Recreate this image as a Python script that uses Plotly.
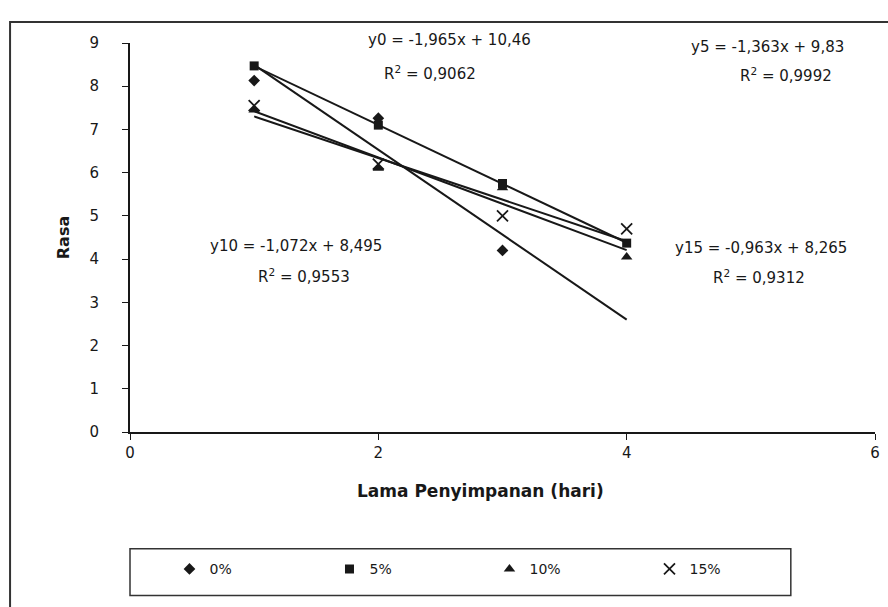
import plotly.graph_objects as go

# Storage time (days) and taste scores for each concentration
days = [1, 2, 3, 4]
days_0 = [1, 2, 3]
rasa_0 = [8.13, 7.26, 4.20]
rasa_5 = [8.47, 7.10, 5.75, 4.37]
rasa_10 = [7.45, 6.10, 5.65, 4.05]
rasa_15 = [7.55, 6.20, 5.00, 4.70]

series_names = ["0%", "5%", "10%", "15%"]
slopes = [-1.965, -1.363, -1.072, -0.963]
intercepts = [10.46, 9.83, 8.495, 8.265]
r2_values = ["0,9062", "0,9992", "0,9553", "0,9312"]
eq_labels = ["y0 = -1,965x + 10,46", "y5 = -1,363x + 9,83",
             "y10 = -1,072x + 8,495", "y15 = -0,963x + 8,265"]

x_ticks = [0, 2, 4, 6]
y_ticks = list(range(0, 10))

INK = "#181818"
FONT = "DejaVu Sans, Arial, sans-serif"

fig = go.Figure()

# Linear trend lines over the storage period
trend_x = [1, 4]
for m, c in zip(slopes, intercepts):
    fig.add_trace(go.Scatter(
        x=trend_x, y=[m * t + c for t in trend_x], mode="lines",
        line=dict(color=INK, width=2), showlegend=False, hoverinfo="skip"))

marker_styles = [
    dict(symbol="diamond", size=9),
    dict(symbol="square", size=9),
    dict(symbol="triangle-up", size=10),
    dict(symbol="x-thin", size=11, line=dict(width=1.8, color=INK)),
]
xs = [days_0, days, days, days]
ys = [rasa_0, rasa_5, rasa_10, rasa_15]
for name, x, y, ms in zip(series_names, xs, ys, marker_styles):
    fig.add_trace(go.Scatter(
        x=x, y=y, mode="markers", name=name,
        marker=dict(color=INK, **ms)))

# Regression equations and R² labels (paper coordinates, centred)
eq_pos = [(0.429, 1.008), (0.856, 0.990), (0.223, 0.478), (0.847, 0.473)]
r2_pos = [(0.403, 0.923), (0.880, 0.918), (0.233, 0.401), (0.844, 0.398)]
for lab, (ex, ey), r2, (rx, ry) in zip(eq_labels, eq_pos, r2_values, r2_pos):
    fig.add_annotation(x=ex, y=ey, xref="paper", yref="paper", text=lab,
                       xanchor="center", yanchor="middle", showarrow=False,
                       font=dict(size=15, color=INK, family=FONT))
    fig.add_annotation(x=rx, y=ry, xref="paper", yref="paper",
                       text=f"R<sup>2</sup> = {r2}", xanchor="center",
                       yanchor="middle", showarrow=False,
                       font=dict(size=15, color=INK, family=FONT))

# X axis title
fig.add_annotation(x=0.471, y=-0.152, xref="paper", yref="paper",
                   text="<b>Lama Penyimpanan (hari)</b>", xanchor="center",
                   yanchor="middle", showarrow=False,
                   font=dict(size=17, color=INK, family=FONT))

# Outer chart frame and legend box
fig.add_shape(type="rect", xref="paper", yref="paper",
              x0=-0.161, x1=1.03, y0=-0.6, y1=1.054,
              line=dict(color="#333", width=2))
fig.add_shape(type="rect", xref="paper", yref="paper",
              x0=0.0, x1=0.887, y0=-0.42, y1=-0.30,
              line=dict(color="#333", width=1.5))

fig.update_layout(
    width=888, height=607,
    margin=dict(l=130, r=8, t=43, b=175),
    paper_bgcolor="white", plot_bgcolor="white",
    font=dict(family=FONT, color=INK, size=15),
    legend=dict(orientation="h", x=0.053, y=-0.312, xanchor="left", yanchor="top",
                entrywidth=115, font=dict(size=14, family=FONT),
                bgcolor="rgba(0,0,0,0)", itemclick=False),
    xaxis=dict(range=[0, 6], tickvals=x_ticks, showline=True, linecolor=INK,
               linewidth=2, ticks="outside", ticklen=6, tickcolor=INK,
               showgrid=False, zeroline=False),
    yaxis=dict(range=[0, 9], tickvals=y_ticks, showline=True, linecolor=INK,
               linewidth=2, ticks="outside", ticklen=6, tickcolor=INK,
               showgrid=False, zeroline=False, ticklabelstandoff=20,
               title=dict(text="<b>Rasa</b>", standoff=16, font=dict(size=16))),
)

fig.write_html("out.html")
